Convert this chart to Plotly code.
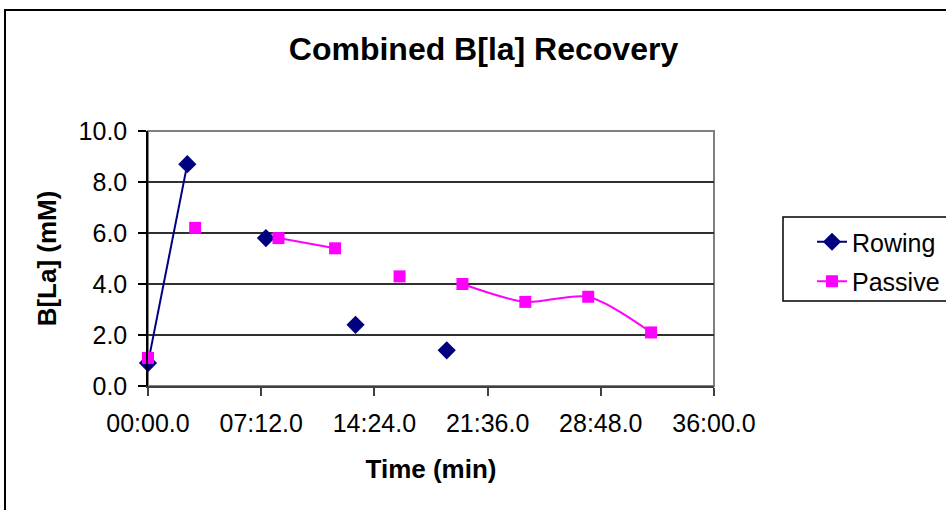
import plotly.graph_objects as go

# ---- data (time in minutes) ----
time_min = [0, 2.5, 3.0, 7.5, 8.3, 11.9, 13.2, 16.0, 19.0, 20.0, 24.0, 28.0, 32.0]
rowing = [0.9, 8.7, None, 5.8, None, None, 2.4, None, 1.4, None, None, None, None]
passive = [1.1, None, 6.2, None, 5.8, 5.4, None, 4.3, None, 4.0, 3.3, 3.5, 2.1]

x_tickvals = [0, 7.2, 14.4, 21.6, 28.8, 36]
x_ticktext = ["00:00.0", "07:12.0", "14:24.0", "21:36.0", "28:48.0", "36:00.0"]
y_tickvals = [0, 2, 4, 6, 8, 10]

FONT = "Liberation Sans, Arial, sans-serif"

fig = go.Figure()
fig.add_trace(go.Scatter(
    x=time_min, y=rowing, name="Rowing", mode="lines+markers",
    connectgaps=False, cliponaxis=False, legendgroup="r",
    line=dict(color="#000080", width=2),
    marker=dict(symbol="diamond", size=14, color="#000080"),
))
fig.add_trace(go.Scatter(
    x=time_min, y=passive, name="Passive", mode="lines+markers",
    connectgaps=False, cliponaxis=False, legendgroup="p",
    line=dict(color="#FF00FF", width=2, shape="spline", smoothing=0.8),
    marker=dict(symbol="square", size=12, color="#FF00FF"),
))

W, H = 946, 510
L, R, T, B = 148, 714, 131, 386
pw, ph = R - L, B - T

def px(x):
    return (x - L) / pw

def py(y):
    return (B - y) / ph

shapes = [
    # plot area border (gray)
    dict(type="rect", xref="paper", yref="paper", x0=0, x1=1, y0=0, y1=1,
         line=dict(color="#808080", width=2), layer="below"),
    # outer chart frame
    dict(type="rect", xref="paper", yref="paper", x0=px(5), x1=px(960),
         y0=py(530), y1=py(10), line=dict(color="black", width=2)),
    # legend box
    dict(type="rect", xref="paper", yref="paper", x0=px(783), x1=px(960),
         y0=py(301), y1=py(217), line=dict(color="black", width=1.5)),
]

fig.update_layout(
    width=W, height=H,
    margin=dict(l=L, r=W - R, t=T, b=H - B, autoexpand=False),
    paper_bgcolor="white", plot_bgcolor="white",
    font=dict(family=FONT, size=25, color="black"),
    title=dict(text="Combined B[la] Recovery", x=483.5 / W, xanchor="center",
               y=1 - 49 / H, yanchor="middle", xref="container", yref="container",
               font=dict(family=FONT, size=32, color="black", weight="bold")),
    showlegend=True,
    legend=dict(x=px(812), y=py(219), xanchor="left", yanchor="top",
                bgcolor="rgba(0,0,0,0)", borderwidth=0,
                font=dict(family=FONT, size=25, color="black"),
                tracegroupgap=4),
    shapes=shapes,
)

fig.update_xaxes(
    range=[0, 36], tickvals=x_tickvals, ticktext=x_ticktext,
    ticks="outside", ticklen=8, tickcolor="#404040", tickwidth=1.5,
    showline=True, linecolor="#404040", linewidth=1.5,
    showgrid=False, zeroline=False, ticklabelstandoff=6,
    title=dict(text="Time (min)", standoff=24,
               font=dict(family=FONT, size=26, color="black", weight="bold")),
)
fig.update_yaxes(
    range=[0, 10], tickvals=y_tickvals, tickformat=".1f",
    ticks="outside", ticklen=8, tickcolor="black", tickwidth=1.5,
    showline=True, linecolor="black", linewidth=1.5,
    showgrid=True, gridcolor="#303030", gridwidth=1.5, zeroline=False,
    ticklabelstandoff=6,
    title=dict(text="B[La] (mM)", standoff=14,
               font=dict(family=FONT, size=26, color="black", weight="bold")),
)

fig.write_html("out.html", config={"displayModeBar": False},
               post_script="document.body.style.margin='0';")
